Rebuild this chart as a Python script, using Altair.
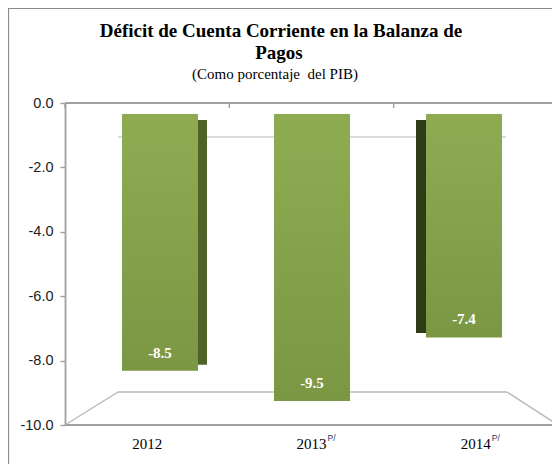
import altair as alt
import pandas as pd

# ---- data ----
categories = ["2012", "2013", "2014"]
values = [-8.5, -9.5, -7.4]
value_labels = ["-8.5", "-9.5", "-7.4"]
superscripts = ["", "P/", "P/"]
y_ticks = [0, -2, -4, -6, -8, -10]

title_lines = ["Déficit de Cuenta Corriente en la Balanza de", "Pagos"]
subtitle = "(Como porcentaje\u00a0 del PIB)"

df = pd.DataFrame({"year": categories, "value": values,
                   "label": value_labels, "sup": superscripts})
one = pd.DataFrame({"k": [0]})   # single row for decorations / titles

W, H = 487, 322          # plot area
FRONT_W = 493            # front edge of the 3-D box (partly cut at the right)
GRAY = "#a0a0a0"
LIGHT = "#b8b8b8"
TITLE_X = 216

front_x = alt.Scale(domain=categories, range=[0, FRONT_W], paddingInner=0, paddingOuter=0)
front_y = alt.Scale(domain=[-10, 0], range=[H, 0], nice=False, zero=False)
bar_x = alt.Scale(domain=categories, range=[19, 475], paddingInner=0.5, paddingOuter=0.25)
bar_y = alt.Scale(domain=[-10, 0], range=[313, 11], nice=False)
side_y = alt.Scale(domain=[-10, 0], range=[305, 17], nice=False)

base = alt.Chart(df)
deco = alt.Chart(one)

# titles as text
title1 = deco.mark_text(font="Liberation Serif", fontSize=19, fontWeight="bold",
                        color="black", baseline="middle").encode(
    x=alt.value(TITLE_X), y=alt.value(-72), text=alt.value(title_lines[0]))
title2 = deco.mark_text(font="Liberation Serif", fontSize=19, fontWeight="bold",
                        color="black", baseline="middle").encode(
    x=alt.value(TITLE_X - 2), y=alt.value(-50), text=alt.value(title_lines[1]))
sub = deco.mark_text(font="Liberation Serif", fontSize=15, fontWeight="normal",
                     color="black", baseline="middle").encode(
    x=alt.value(TITLE_X - 6), y=alt.value(-29), text=alt.value(subtitle))

# outer frame of the chart box
frame_left = deco.mark_rule(color="#8c8c8c", strokeWidth=1.2).encode(
    x=alt.value(-56.5), y=alt.value(-95), y2=alt.value(H + 40))
frame_top = deco.mark_rule(color="#8c8c8c", strokeWidth=1.2).encode(
    x=alt.value(-57), x2=alt.value(W), y=alt.value(-94.5))

# 3-D box decoration (back wall zero line, floor)
back_zero = deco.mark_rule(color=LIGHT, strokeWidth=1.2).encode(
    x=alt.value(53), x2=alt.value(441), y=alt.value(34))
floor_back = deco.mark_rule(color=LIGHT, strokeWidth=1.4).encode(
    x=alt.value(53), x2=alt.value(442), y=alt.value(289))
floor_left = deco.mark_rule(color=LIGHT, strokeWidth=1.4).encode(
    x=alt.value(0), x2=alt.value(53), y=alt.value(H), y2=alt.value(289))
floor_right = deco.mark_rule(color=LIGHT, strokeWidth=1.4).encode(
    x=alt.value(442), x2=alt.value(FRONT_W), y=alt.value(289), y2=alt.value(H))
floor_front = deco.mark_rule(color=GRAY, strokeWidth=2).encode(
    x=alt.value(0), x2=alt.value(FRONT_W),
    y=alt.Y(datum=-10, type="quantitative", scale=front_y, axis=None))

# top line at 0 carrying the value axis
top_line = deco.mark_rule(color=GRAY, strokeWidth=2).encode(
    x=alt.value(0), x2=alt.value(FRONT_W),
    y=alt.Y(datum=0, type="quantitative", scale=front_y,
            axis=alt.Axis(values=y_ticks, labelExpr="datum.value + '.0'",
                          title=None, grid=False, domainColor=GRAY, domainWidth=1.8,
                          tickColor=GRAY, tickSize=5, tickWidth=1.4,
                          labelFont="Liberation Sans", labelFontSize=14.5,
                          labelColor="#1a1a1a", labelPadding=7)))

top_ticks = base.mark_rule(color=GRAY, strokeWidth=1.4).encode(
    x=alt.X("year:N", scale=front_x, bandPosition=0, axis=None),
    y=alt.value(0), y2=alt.value(5))

# bar side faces (perspective)
side_2012 = base.transform_filter(alt.datum.year == "2012").mark_bar(
    color="#4f6228", width=10, xOffset=42).encode(
    x=alt.X("year:N", scale=bar_x, axis=None),
    y=alt.Y("value:Q", scale=side_y, axis=None))
side_2014 = base.transform_filter(alt.datum.year == "2014").mark_bar(
    color="#2e3b17", width=11, xOffset=-42.5).encode(
    x=alt.X("year:N", scale=bar_x, axis=None),
    y=alt.Y("value:Q", scale=side_y, axis=None))

gradient = alt.Gradient(gradient="linear", x1=0, x2=0, y1=0, y2=1,
                        stops=[alt.GradientStop(color="#8fab52", offset=0),
                               alt.GradientStop(color="#7b9744", offset=1)])

bars = base.mark_bar(color=gradient).encode(
    x=alt.X("year:N", scale=bar_x, axis=None),
    y=alt.Y("value:Q", scale=bar_y, axis=None))

bar_text = base.mark_text(color="white", font="Liberation Serif", fontSize=15,
                          fontWeight="bold", baseline="middle", dy=-18).encode(
    x=alt.X("year:N", scale=bar_x, axis=None),
    y=alt.Y("value:Q", scale=bar_y, axis=None),
    text="label:N")

x_labels = base.mark_text(color="black", font="Liberation Serif", fontSize=15,
                          baseline="middle").encode(
    x=alt.X("year:N", scale=front_x, axis=None),
    y=alt.value(H + 19),
    text="year:N")
x_sups = base.mark_text(color="#1f3864", font="Liberation Sans", fontSize=8.5,
                        baseline="middle", align="left", dx=16, dy=-6).encode(
    x=alt.X("year:N", scale=front_x, axis=None),
    y=alt.value(H + 19),
    text="sup:N")

chart = alt.layer(
    frame_left, frame_top, title1, title2, sub,
    back_zero, floor_back, floor_left, floor_right,
    floor_front, top_line, top_ticks, side_2012, side_2014, bars, bar_text,
    x_labels, x_sups
).resolve_scale(x="independent", y="independent").properties(
    width=W, height=H,
    autosize=alt.AutoSizeParams(type="none"),
    padding={"left": 57, "top": 95, "right": 0, "bottom": 39},
).configure_view(stroke=None)

chart.save("out.html", embed_options={"renderer": "svg", "actions": False})
